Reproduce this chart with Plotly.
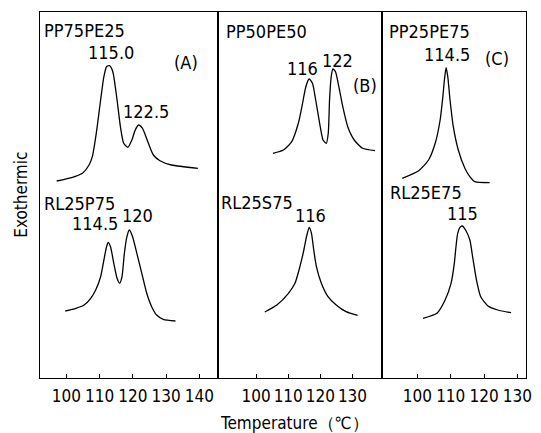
import plotly.graph_objects as go

# ---- data (temperature in degC, exothermic signal in arbitrary units) ----
a_top_T = [97.11, 101.88, 104.85, 106.85, 107.83, 109.02, 110.33, 111.31, 112.11, 113.01, 113.99,
           115.27, 116.28, 117.26, 118.54, 119.73, 120.74, 121.73, 122.92, 124.70, 126.19, 128.18,
           131.64, 139.58]
a_top_S = [197, 200.7, 204.7, 213, 221.3, 244.7, 278, 301.3, 311.3, 312.3, 306.3,
           278, 251.3, 234.7, 230.7, 238, 248, 253, 249.7, 234.7, 223, 217.3,
           213, 209.7]

a_bot_T = [99.70, 102.89, 105.36, 107.35, 108.84, 110.33, 111.31, 112.11, 112.59, 113.30, 114.29,
           115.27, 116.07, 116.76, 117.47, 118.24, 118.96, 119.94, 121.22, 122.71, 124.20, 125.68,
           127.17, 129.17, 132.83]
a_bot_S = [67, 69.7, 73, 79.7, 88, 101.3, 118, 131.3, 135.7, 131.3, 114.7,
           99.7, 94.7, 101.3, 124.7, 141.3, 148, 141.3, 124.7, 104.7, 84.7, 71.3,
           63, 58.7, 57]

b_top_T = [105.23, 108.52, 111.08, 113.14, 114.46, 115.48, 116.52, 117.54, 118.55, 119.78, 120.83,
           121.85, 122.46, 122.86, 123.38, 123.91, 124.71, 125.75, 126.98, 128.52, 130.55, 133.14,
           137.02]
b_top_S = [224.7, 228, 236.3, 254.7, 274.7, 291.3, 299, 294.7, 278, 254.7, 238,
           234.7, 244.7, 278, 301.3, 309, 306.3, 291.3, 271.3, 251.3, 238, 229.7,
           227.3]

b_bot_T = [102.68, 106.46, 110.06, 112.09, 113.63, 114.86, 115.69, 116.52, 117.23, 117.94, 118.77,
           120.31, 122.37, 124.92, 128.0, 131.6]
b_bot_S = [66, 73, 84.7, 94.7, 111.3, 128, 141.3, 150.7, 144.7, 128, 111.3,
           94.7, 81.3, 73, 66.3, 62.7]

c_top_T = [95.46, 100.39, 103.35, 105.34, 106.82, 107.63, 108.10, 108.61, 109.11, 109.79, 110.77,
           112.26, 114.24, 115.73, 117.21, 121.66]
c_top_S = [199.7, 207.3, 218, 234.7, 258, 281.3, 298, 310.3, 301.3, 278, 251.3,
           228, 209.7, 201.3, 196.3, 195.3]

c_bot_T = [101.69, 105.85, 108.31, 110.09, 111.07, 111.57, 112.08, 112.76, 113.44, 114.45, 115.73,
           116.71, 117.72, 118.99, 121.16, 124.12, 128.10]
c_bot_S = [59.7, 64.7, 78, 94.7, 114.7, 131.3, 144.7, 150.7, 152, 148, 138,
           118, 98, 81.3, 72, 68, 65.3]

ticks_a = [100, 110, 120, 130, 140]
ticks_bc = [100, 110, 120, 130]

sample_names = ["PP75PE25", "RL25P75", "PP50PE50", "RL25S75", "PP25PE75", "RL25E75"]
panel_tags = ["(A)", "(B)", "(C)"]
peak_labels = ["115.0", "122.5", "114.5", "120", "116", "122", "116", "114.5", "115"]

FONT = "Liberation Sans Narrow, DejaVu Sans Condensed, Arial Narrow, sans-serif"
LINE = dict(color="black", width=1.3, shape="spline", smoothing=0.6)

fig = go.Figure()
curves = [(a_top_T, a_top_S, "x", "y"), (a_bot_T, a_bot_S, "x", "y"),
          (b_top_T, b_top_S, "x2", "y2"), (b_bot_T, b_bot_S, "x2", "y2"),
          (c_top_T, c_top_S, "x3", "y3"), (c_bot_T, c_bot_S, "x3", "y3")]
for (tx, sy, xa, ya), name in zip(curves, sample_names):
    fig.add_trace(go.Scatter(x=tx, y=sy, mode="lines", line=LINE, name=name,
                             xaxis=xa, yaxis=ya, showlegend=False, hoverinfo="skip"))

W, H = 541, 433
ydom = [1 - 378 / H, 1 - 12 / H]
xdoms = [[40 / W, 220 / W], [220 / W, 386 / W], [386 / W, 532 / W]]
xranges = [[91.96, 145.5], [88.0, 139.1], [89.3, 132.6]]
tickvals = [ticks_a, ticks_bc, ticks_bc]

axis_common = dict(showline=True, linecolor="black", linewidth=1, mirror=True,
                   showgrid=False, zeroline=False)
layout = dict(width=W, height=H, margin=dict(l=0, r=0, t=0, b=0),
              paper_bgcolor="white", plot_bgcolor="white", showlegend=False,
              font=dict(family=FONT, color="black", size=18))
for i in range(3):
    sfx = "" if i == 0 else str(i + 1)
    layout["xaxis" + sfx] = dict(domain=xdoms[i], range=xranges[i], anchor="y" + sfx,
                                 tickmode="array", tickvals=tickvals[i], tickangle=0,
                                 ticks="inside", ticklen=4, tickwidth=1, tickcolor="black",
                                 tickfont=dict(size=17, family=FONT), ticklabelstandoff=3,
                                 **axis_common)
    layout["yaxis" + sfx] = dict(domain=ydom, range=[0, 366], anchor="x" + sfx,
                                 showticklabels=False, ticks="", **axis_common)
fig.update_layout(**layout)

def lab(text, xref, yref, x, y, size=18):
    fig.add_annotation(text=text, xref=xref, yref=yref, x=x, y=y, showarrow=False,
                       font=dict(size=size, family=FONT, color="black"),
                       xanchor="center", yanchor="middle")

# panel A
lab(sample_names[0], "x", "y", 105.4, 348)
lab(peak_labels[0], "x", "y", 113.54, 325.5)
lab(panel_tags[0], "x", "y", 136.0, 316)
lab(peak_labels[1], "x", "y", 123.96, 266.5)
lab(sample_names[1], "x", "y", 103.87, 175)
lab(peak_labels[2], "x", "y", 108.78, 154.5)
lab(peak_labels[3], "x", "y", 121.3, 163)
# panel B
lab(sample_names[2], "x2", "y2", 103.08, 346.5)
lab(peak_labels[4], "x2", "y2", 114.46, 309.5)
lab(peak_labels[5], "x2", "y2", 125.23, 318)
lab(panel_tags[1], "x2", "y2", 133.85, 293)
lab(sample_names[3], "x2", "y2", 100.31, 175.5)
lab(peak_labels[6], "x2", "y2", 116.92, 163)
# panel C
lab(sample_names[4], "x3", "y3", 103.56, 346.5)
lab(peak_labels[7], "x3", "y3", 108.75, 323.5)
lab(panel_tags[2], "x3", "y3", 123.74, 319.5)
lab(sample_names[5], "x3", "y3", 102.67, 185.5)
lab(peak_labels[8], "x3", "y3", 113.65, 164.5)

# axis titles
fig.add_annotation(text="Temperature（℃）", xref="paper", yref="paper",
                   x=298 / W, y=1 - 423 / H, showarrow=False,
                   font=dict(size=17, family=FONT), xanchor="center", yanchor="middle")
fig.add_annotation(text="Exothermic", xref="paper", yref="paper",
                   x=21 / W, y=1 - 195 / H, showarrow=False, textangle=-90,
                   font=dict(size=17, family=FONT), xanchor="center", yanchor="middle")

fig.write_html("out.html")
